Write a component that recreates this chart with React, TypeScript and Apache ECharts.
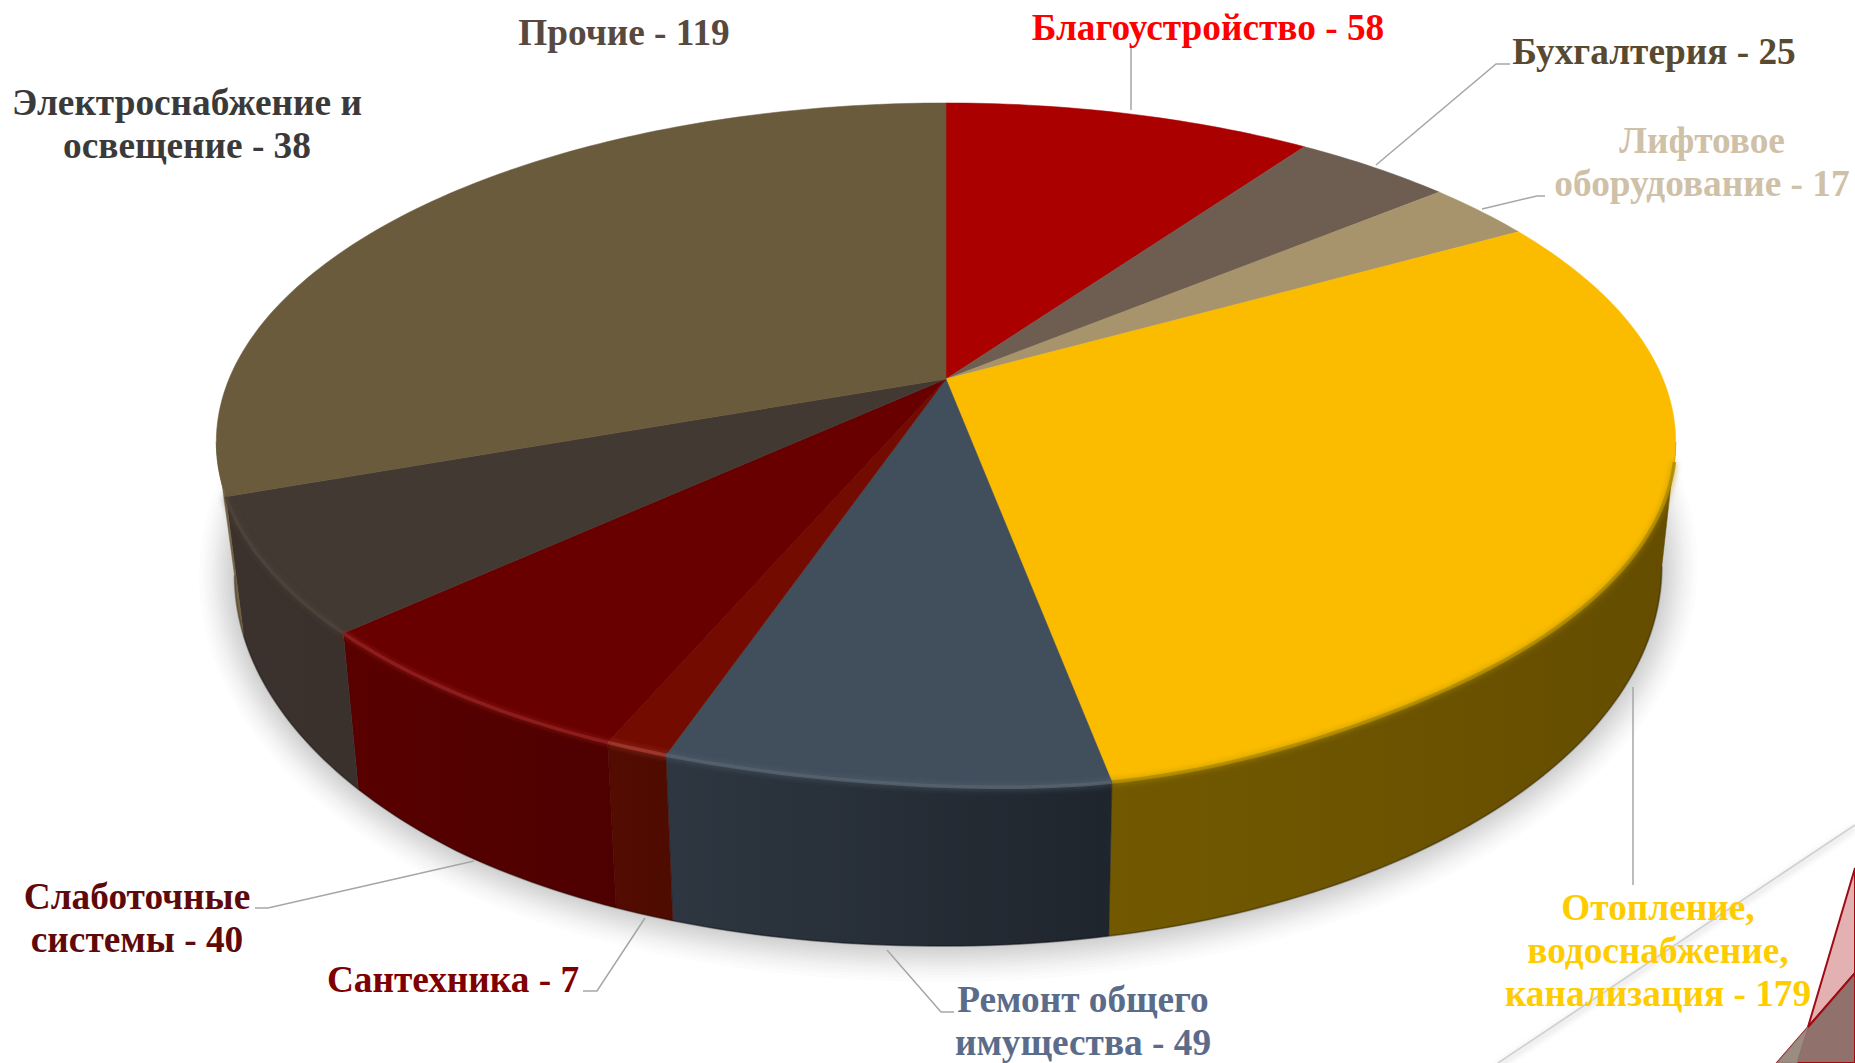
import React, { useEffect, useRef } from "react";
import * as echarts from "echarts";

const categories = [
  "Благоустройство",
  "Бухгалтерия",
  "Лифтовое\nоборудование",
  "Отопление,\nводоснабжение,\nканализация",
  "Ремонт общего\nимущества",
  "Сантехника",
  "Слаботочные\nсистемы",
  "Электроснабжение и\nосвещение",
  "Прочие",
];
// Numbers printed in the labels
const labelValues = [58, 25, 17, 179, 49, 7, 40, 38, 119];
// Sizes of the slices as drawn (the "Прочие" slice is drawn larger than its printed number)
const sliceValues = [58, 25, 17, 179, 49, 7, 40, 38, 181];

const topColors = ["#AB0000", "#6E5E52", "#A8946C", "#FBBC00", "#414E5C", "#730B00", "#680000", "#423932", "#6B5B3D"];
const wallLeft = ["#800000", "#524539", "#7d6e50", "#725900", "#2E3741", "#530C00", "#590000", "#3B322D", "#7C6C49"];
const wallRight = ["#800000", "#524539", "#7d6e50", "#654D00", "#1F252D", "#4E0B00", "#4E0000", "#3A312C", "#6F5F40"];
const rimColors = ["#AB0000", "#6E5E52", "#A8946C", "#B08C00", "#55626F", "#A23A30", "#93201F", "#4C433B", "#6B5B3D"];
const labelColors = ["#FF0000", "#584A30", "#CFC0A8", "#FFCC00", "#5B6B8A", "#7F0000", "#5E0A0A", "#3A3A3A", "#574840"];

const total = sliceValues.reduce((a, b) => a + b, 0);
const startDeg = (i: number) => (sliceValues.slice(0, i).reduce((a, b) => a + b, 0) / total) * 360;
const endDeg = (i: number) => startDeg(i + 1);

// Perspective projection of the pie's unit disc
const CX = 946, CY = 379, R = 717, K = 0.1858, A = -256.9;
const project = (deg: number, r = 1): [number, number] => {
  const t = (deg * Math.PI) / 180;
  const u = r * Math.sin(t), v = r * Math.cos(t);
  const d = 1 + K * v;
  return [CX + (R * u) / d, (A * v + CY) / d];
};
const lower = (p: [number, number]): [number, number] => {
  const dx = p[0] - CX;
  const leftDrop = dx < 0 ? 9 * Math.min(1, Math.pow(-dx / 500, 1.5)) : 0;
  return [
    CX + (dx < 0 ? 0.975 : 0.981) * dx,
    p[1] + 165 + 0.12 * (p[1] - 781) + leftDrop,
  ];
};
const angles = (a: number, b: number) => {
  const out: number[] = [];
  const n = Math.max(2, Math.ceil(Math.abs(b - a)));
  for (let k = 0; k <= n; k++) out.push(a + ((b - a) * k) / n);
  return out;
};
// The bevel makes the front edge of the top face swell slightly
const bevel = (deg: number) => 10 * Math.exp(-(((deg - 168) / 15) ** 2));
const topEdge = (deg: number): [number, number] => {
  const p = project(deg);
  return [p[0], p[1] + bevel(deg)];
};
const WALL_FROM = 100.7, WALL_TO = 259.3;

const sliceData = sliceValues.map((v, i) => [v, i]);
const shadowSteps = [36, 32, 29, 26, 23, 21, 19, 17, 15, 13, 11, 9, 7, 5, 3, 1];

const labelPlaces = [
  { x: 1208, y: 27 },
  { x: 1654, y: 51 },
  { x: 1702, y: 162 },
  { x: 1658, y: 950 },
  { x: 1083, y: 1021 },
  { x: 453, y: 979 },
  { x: 137, y: 918 },
  { x: 187, y: 124 },
  { x: 624, y: 32 },
];
const leaders: number[][][] = [
  [[1131, 47], [1131, 110]],
  [[1510, 64], [1496, 64], [1376, 165]],
  [[1545, 196], [1537, 196], [1482, 209]],
  [[1633, 687], [1633, 885]],
  [[887, 950], [941, 1012], [954, 1012]],
  [[645, 918], [597, 991], [583, 991]],
  [[474, 861], [268, 908], [255, 908]],
];

export default function App() {
  const ref = useRef<HTMLDivElement>(null);
  useEffect(() => {
    document.body.style.margin = "0";
    const chart = echarts.init(ref.current!, undefined, { renderer: "svg" });
    const base = { type: "custom", coordinateSystem: "none", silent: true, animation: false };
    chart.setOption({
      animation: false,
      backgroundColor: "#FFFFFF",
      graphic: [
        {
          type: "polyline", z: 1, silent: true,
          shape: { points: [[1498, 1063], [1855, 825]] },
          style: { stroke: "#D2D2D2", lineWidth: 2, shadowBlur: 6, shadowColor: "rgba(0,0,0,0.25)", shadowOffsetY: 3, fill: "none" },
        },
        {
          type: "polygon", z: 1, silent: true,
          shape: { points: [[1808, 1027], [1855, 868], [1855, 973]] },
          style: { fill: "#E3B1B1", stroke: "#A00A14", lineWidth: 2 },
        },
        {
          type: "polygon", z: 1, silent: true,
          shape: { points: [[1777, 1063], [1855, 973], [1855, 1063]] },
          style: { fill: "#90716C", stroke: "#A00A14", lineWidth: 2 },
        },
        {
          type: "polygon", z: 1, silent: true,
          shape: { points: [[1777, 1063], [1808, 1027], [1797, 1063]] },
          style: { fill: "#9A8C80", stroke: "#90716C", lineWidth: 1 },
        },
        ...leaders.map((points) => ({
          type: "polyline", z: 20, silent: true,
          shape: { points },
          style: { stroke: "#A6A6A6", lineWidth: 1.5, fill: "none" },
        })),
        ...categories.map((name, i) => ({
          type: "text", z: 30, silent: true,
          x: labelPlaces[i].x, y: labelPlaces[i].y,
          style: {
            text: `${name} - ${labelValues[i]}`,
            fill: labelColors[i],
            font: 'bold 37.3px "Liberation Serif"',
            lineHeight: 43,
            textAlign: "center",
            textVerticalAlign: "middle",
          },
        })),
      ],
      series: [
        {
          ...base, z: 2, name: "shadow", data: [[total, 0]],
          renderItem: () => ({
            type: "group",
            children: shadowSteps.map((e) => ({
              type: "polygon",
              shape: { points: angles(0, 360).map((d) => {
                const p = lower(project(d));
                return [CX + (p[0] - CX) * (1 + e / 720), 560 + (p[1] - 560) * (1 + e / 386)];
              }) },
              style: { fill: "rgba(0,0,0,0.011)" },
            })),
          }),
        },
        {
          ...base, z: 3, name: "walls", data: sliceData,
          renderItem: (_: unknown, api: any) => {
            const i = api.value(1);
            const a = Math.max(startDeg(i), WALL_FROM), b = Math.min(endDeg(i), WALL_TO);
            if (b <= a) return { type: "group", children: [] };
            const ds = angles(a, b);
            const bottom = ds.map((d) => lower(project(d)));
            const points = [...ds.map(topEdge), ...bottom.slice().reverse()];
            return {
              type: "group",
              children: [
                {
                  type: "polygon",
                  shape: { points },
                  style: {
                    fill: new echarts.graphic.LinearGradient(0, 0, 1, 0, [
                      { offset: 0, color: wallLeft[i] },
                      { offset: 1, color: wallRight[i] },
                    ]),
                    stroke: wallRight[i], lineWidth: 0.5,
                  },
                },
                {
                  type: "polyline",
                  shape: { points: bottom },
                  style: { stroke: "rgba(0,0,0,0.22)", lineWidth: 2, fill: "none" },
                },
              ],
            };
          },
        },
        {
          ...base, z: 4, name: "tops", data: sliceData,
          renderItem: (_: unknown, api: any) => {
            const i = api.value(1);
            return {
              type: "polygon",
              shape: { points: [project(0, 0), ...angles(startDeg(i), endDeg(i)).map(topEdge)] },
              style: { fill: topColors[i], stroke: topColors[i], lineWidth: 0.5 },
            };
          },
        },
        {
          ...base, z: 5, name: "rims", data: sliceData,
          renderItem: (_: unknown, api: any) => {
            const i = api.value(1);
            const a = Math.max(startDeg(i), 104), b = Math.min(endDeg(i), 250.3);
            if (b <= a) return { type: "group", children: [] };
            return {
              type: "polyline",
              shape: { points: angles(a, b).map(topEdge) },
              style: {
                stroke: rimColors[i], lineWidth: 3.5, fill: "none",
                shadowBlur: 6, shadowColor: rimColors[i], opacity: 0.85,
              },
            };
          },
        },
      ],
    });
    return () => chart.dispose();
  }, []);
  return (
    <div
      ref={ref}
      style={{ position: "absolute", left: 0, top: 0, width: 1855, height: 1063, overflow: "hidden" }}
    />
  );
}
